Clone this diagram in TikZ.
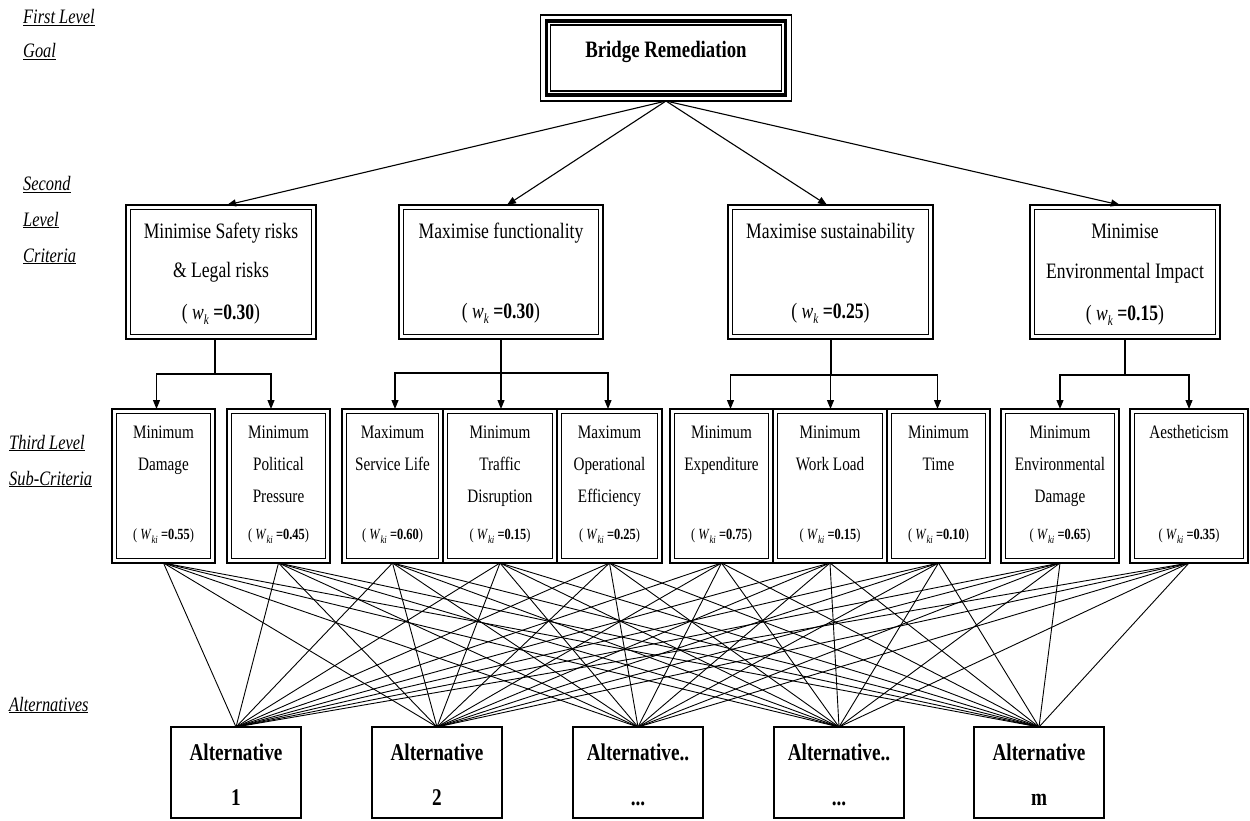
\documentclass[tikz,border=0pt]{standalone}
\usepackage{fontspec}
\setmainfont{Liberation Serif}[FakeStretch=0.8]
\usetikzlibrary{arrows.meta}
\newcommand\wk[1]{( \textit{w}\raisebox{-0.55ex}{\fontsize{14}{14}\selectfont\itshape k} \textbf{=#1})}
\newcommand\wki[1]{( \textit{W}\raisebox{-0.6ex}{\fontsize{11}{11}\selectfont\itshape ki} \textbf{=#1})}
\begin{document}
\begin{tikzpicture}[x=1pt,y=-1pt,
  tri/.style={-{Triangle[length=9pt,width=7pt]}, line width=1.1pt},
  stem/.style={line width=1.1pt},
  goalbox/.style={draw, line width=1.6pt, inner sep=0pt, outer sep=0pt},
  critbox/.style={draw, line width=2.8pt, minimum height=134pt, inner sep=0pt, outer sep=0pt},
  subbox/.style={draw, line width=2.6pt, minimum height=154pt, inner sep=0pt, outer sep=0pt},
  altbox/.style={draw, line width=2.4pt, minimum width=130pt, minimum height=91pt, inner sep=0pt, outer sep=0pt},
  ct/.style={font=\fontsize{22}{26}\selectfont, inner sep=0pt, anchor=base},
  st/.style={font=\fontsize{19}{22}\selectfont, inner sep=0pt, anchor=base},
  wt/.style={font=\fontsize{15.5}{18}\selectfont, inner sep=0pt, anchor=base},
  alttext/.style={font=\fontsize{24}{28}\selectfont\bfseries, inner sep=0pt, anchor=base},
  lvl/.style={font=\fontsize{20.5}{24}\selectfont\itshape, inner sep=0pt, anchor=base west},
  link/.style={line width=0.9pt}
]
\useasboundingbox (0,0) rectangle (1250,821);

% ---------- level labels ----------
\node[lvl] (L1a) at (23,24) {\underline{First Level}};
\node[lvl] (L1b) at (23,58) {\underline{Goal}};
\node[lvl] (L2a) at (23,191) {\underline{Second}};
\node[lvl] (L2b) at (23,226) {\underline{Level}};
\node[lvl] (L2c) at (23,262) {\underline{Criteria}};
\node[lvl] (L3a) at (9,449) {\underline{Third Level}};
\node[lvl] (L3b) at (9,485) {\underline{Sub-Criteria}};
\node[lvl] (L4a) at (9,711) {\underline{Alternatives}};

% ---------- goal ----------
\node[goalbox, minimum width=251pt, minimum height=86pt] (G) at (666,58) {};
\draw[line width=3.8pt] ([shift={(6pt,-6pt)}]G.north west) rectangle ([shift={(-6pt,6pt)}]G.south east);
\draw[line width=1.2pt] ([shift={(10pt,-10pt)}]G.north west) rectangle ([shift={(-10pt,10pt)}]G.south east);
\node[font=\fontsize{23.5}{28}\selectfont\bfseries, inner sep=0pt, anchor=base] (Gt) at (666,58) {Bridge Remediation};

% ---------- criteria ----------
\node[critbox, minimum width=190pt] (C1) at (221,272) {};
\node[critbox, minimum width=204pt] (C2) at (501,272) {};
\node[critbox, minimum width=205pt] (C3) at (830.5,272) {};
\node[critbox, minimum width=190pt] (C4) at (1125,272) {};
\foreach \n in {C1,C2,C3,C4}
  \draw[line width=0.9pt] ([shift={(4.5pt,-4.5pt)}]\n.north west) rectangle ([shift={(-4.5pt,4.5pt)}]\n.south east);

\node[ct] (C1a) at (221,238) {Minimise Safety risks};
\node[ct] (C1b) at (221,277) {\& Legal risks};
\node[ct] (C1w) at (221,319) {\wk{0.30}};
\node[ct] (C2a) at (501,238) {Maximise functionality};
\node[ct] (C2w) at (501,318) {\wk{0.30}};
\node[ct] (C3a) at (830.5,238) {Maximise sustainability};
\node[ct] (C3w) at (830.5,318) {\wk{0.25}};
\node[ct] (C4a) at (1125,238) {Minimise};
\node[ct] (C4b) at (1125,278) {Environmental Impact};
\node[ct] (C4w) at (1125,320) {\wk{0.15}};

\draw[tri] (G.south) -- ([xshift=6pt]C1.north);
\draw[tri] (G.south) -- ([xshift=6pt]C2.north);
\draw[tri] (G.south) -- ([xshift=-3.5pt]C3.north);
\draw[tri] (G.south) -- ([xshift=-5pt]C4.north);

% ---------- sub-criteria ----------
\node[subbox, minimum width=103pt] (a) at (163.5,486) {};
\node[subbox, minimum width=103pt] (b) at (278.5,486) {};
\node[subbox, minimum width=101pt] (c) at (392.5,486) {};
\node[subbox, minimum width=114pt] (d) at (500,486) {};
\node[subbox, minimum width=105pt] (e) at (609.5,486) {};
\node[subbox, minimum width=103pt] (f) at (721.5,486) {};
\node[subbox, minimum width=114pt] (g) at (830,486) {};
\node[subbox, minimum width=103pt] (h) at (938.5,486) {};
\node[subbox, minimum width=118pt] (i) at (1060,486) {};
\node[subbox, minimum width=118pt] (j) at (1189,486) {};
\foreach \n in {a,b,c,d,e,f,g,h,i,j}
  \draw[line width=0.9pt] ([shift={(4.5pt,-4.5pt)}]\n.north west) rectangle ([shift={(-4.5pt,4.5pt)}]\n.south east);

\node[st] (a1) at (163.5,438) {Minimum};
\node[st] (a2) at (163.5,470) {Damage};
\node[wt] (aw) at (163.5,539) {\wki{0.55}};
\node[st] (b1) at (278.5,438) {Minimum};
\node[st] (b2) at (278.5,470) {Political};
\node[st] (b3) at (278.5,502) {Pressure};
\node[wt] (bw) at (278.5,539) {\wki{0.45}};
\node[st] (c1) at (392.5,438) {Maximum};
\node[st] (c2) at (392.5,470) {Service Life};
\node[wt] (cw) at (392.5,539) {\wki{0.60}};
\node[st] (d1) at (500,438) {Minimum};
\node[st] (d2) at (500,470) {Traffic};
\node[st] (d3) at (500,502) {Disruption};
\node[wt] (dw) at (500,539) {\wki{0.15}};
\node[st] (e1) at (609.5,438) {Maximum};
\node[st] (e2) at (609.5,470) {Operational};
\node[st] (e3) at (609.5,502) {Efficiency};
\node[wt] (ew) at (609.5,539) {\wki{0.25}};
\node[st] (f1) at (721.5,438) {Minimum};
\node[st] (f2) at (721.5,470) {Expenditure};
\node[wt] (fw) at (721.5,539) {\wki{0.75}};
\node[st] (g1) at (830,438) {Minimum};
\node[st] (g2) at (830,470) {Work Load};
\node[wt] (gw) at (830,539) {\wki{0.15}};
\node[st] (h1) at (938.5,438) {Minimum};
\node[st] (h2) at (938.5,470) {Time};
\node[wt] (hw) at (938.5,539) {\wki{0.10}};
\node[st] (i1) at (1060,438) {Minimum};
\node[st] (i2) at (1060,470) {Environmental};
\node[st] (i3) at (1060,502) {Damage};
\node[wt] (iw) at (1060,539) {\wki{0.65}};
\node[st] (j1) at (1189,438) {Aestheticism};
\node[wt] (jw) at (1189,539) {\wki{0.35}};

% ---------- criteria -> sub-criteria ----------
\coordinate (k1) at (215,374);
\draw[stem] ([xshift=-6pt]C1.south) -- (k1);
\draw[tri] (k1) -| ([xshift=-7pt]a.north);
\draw[tri] (k1) -| ([xshift=-7.5pt]b.north);

\coordinate (k2) at (501,373);
\draw[tri] (C2.south) -- (C2.south |- d.north);
\draw[tri] (k2) -| ([xshift=2.5pt]c.north);
\draw[tri] (k2) -| ([xshift=-1.5pt]e.north);

\coordinate (k3) at (830.5,375);
\draw[stem, line width=2pt] (C3.south) -- (k3);
\draw[tri] (k3) -- (k3 |- g.north);
\draw[tri] (k3) -| ([xshift=9pt]f.north);
\draw[tri] (k3) -| ([xshift=-1pt]h.north);

\coordinate (k4) at (1125,375);
\draw[stem] (C4.south) -- (k4);
\draw[tri] (k4) -| (i.north);
\draw[tri] (k4) -| (j.north);

% ---------- alternatives ----------
\node[altbox] (A1) at (236,772.5) {};
\node[altbox] (A2) at (437,772.5) {};
\node[altbox] (A3) at (638,772.5) {};
\node[altbox] (A4) at (839,772.5) {};
\node[altbox] (A5) at (1039,772.5) {};

\node[alttext] (A1a) at (236,760) {Alternative};
\node[alttext] (A1b) at (236,805) {1};
\node[alttext] (A2a) at (437,760) {Alternative};
\node[alttext] (A2b) at (437,805) {2};
\node[alttext] (A3a) at (638,760) {Alternative..};
\node[alttext] (A3b) at (638,805) {...};
\node[alttext] (A4a) at (839,760) {Alternative..};
\node[alttext] (A4b) at (839,805) {...};
\node[alttext] (A5a) at (1039,760) {Alternative};
\node[alttext] (A5b) at (1039,805) {m};

% ---------- sub-criteria -> alternatives ----------
\foreach \s in {a,b,c,d,e,f,g,h,i,j}
  \foreach \t in {A1,A2,A3,A4,A5}
    \draw[link] (\s.south) -- (\t.north);
\end{tikzpicture}
\end{document}
